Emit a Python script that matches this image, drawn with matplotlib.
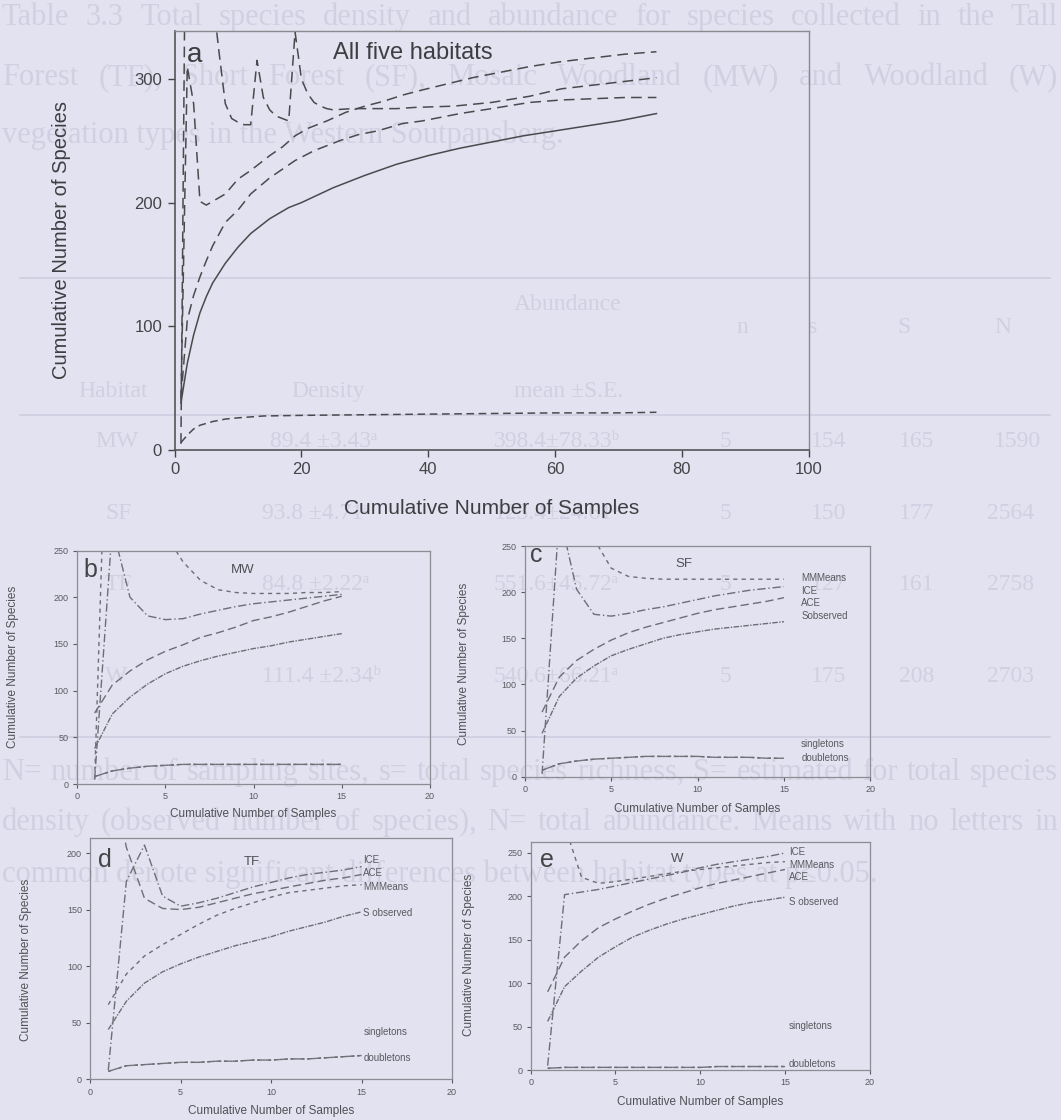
import matplotlib
matplotlib.use("Agg")
import matplotlib.pyplot as plt
from matplotlib.lines import Line2D

plt.rcParams['font.family'] = ['Liberation Sans', 'DejaVu Sans']

W, H = 1061, 1120
BG = '#e2e2f0'
GHOST = '#d0d0e2'
DARK = '#4a4a4e'
LIGHT = '#6e6e76'

# ---------------- panel a : all five habitats ----------------
a_x_sobs = [1, 2, 3, 4, 5, 6, 8, 10, 12, 15, 18, 20, 25, 30, 35, 40, 45, 50, 55, 60, 65, 70, 76]
a_sobs = [38, 70, 93, 111, 124, 135, 151, 164, 175, 187, 196, 200, 212, 222, 231, 238, 244, 249, 254, 258, 262, 266, 272]

a_x_est1 = [1, 2, 3, 4, 5, 6, 8, 10, 12, 15, 17, 19, 21, 24, 27, 30, 33, 36, 39, 43, 47, 52, 56, 61, 66, 71, 76]
a_est1 = [40, 310, 280, 201, 198, 201, 207, 219, 226, 238, 245, 254, 260, 266, 273, 278, 282, 287, 291, 296, 301, 306, 310, 314, 317, 320, 322]

a_x_est2 = [1, 2, 3, 4, 5, 6, 7, 8, 9, 10, 11, 12, 13, 14, 15, 16, 17, 18, 19, 20, 21, 22, 23, 24, 25,
            28, 31, 35, 38, 44, 50, 56, 61, 66, 71, 76]
a_est2 = [5, 600, 520, 460, 420, 367, 322, 280, 268, 265, 263, 263, 315, 285, 275, 270, 268, 266, 338, 300, 288, 281, 278, 276, 275,
          276, 276, 276, 277, 278, 281, 286, 292, 295, 298, 301]

a_x_est3 = [1, 2, 3, 4, 5, 6, 8, 10, 12, 15, 17, 19, 22, 26, 29, 32, 36, 39, 45, 50, 56, 61, 66, 71, 76]
a_est3 = [42, 105, 125, 140, 153, 165, 184, 194, 207, 220, 227, 234, 242, 250, 255, 258, 264, 266, 272, 276, 281, 283, 284, 285, 285]

a_x_single = [1, 2, 3, 4, 6, 8, 10, 14, 20, 30, 40, 50, 60, 70, 76]
a_single = [6, 12, 17, 20, 23, 25, 26, 27.5, 28, 28.5, 29, 29.5, 30, 30, 30.5]

a_xticks = [0, 20, 40, 60, 80, 100]
a_yticks = [0, 100, 200, 300]

# ---------------- panels b-e : per habitat ----------------
samples = list(range(1, 16))
sub_xticks = [0, 5, 10, 15, 20]

b_sobs = [38, 75, 93, 107, 118, 126, 132, 137, 141, 145, 148, 152, 155, 158, 161]
b_ice = [5, 275, 200, 180, 176, 177, 182, 186, 190, 193, 195, 197, 199, 201, 203]
b_ace = [76, 106, 121, 133, 142, 149, 157, 162, 168, 175, 179, 184, 190, 196, 201]
b_mmm = [5, 600, 450, 330, 268, 238, 218, 208, 205, 204, 204, 204, 205, 205, 206]
b_single = [8, 14, 17, 19, 20, 21, 21, 21, 21, 21, 21, 21, 21, 21, 21]
b_double = [8, 14, 17, 19, 20, 21, 21, 21, 21, 21, 21, 21, 21, 21, 21]

c_sobs = [47, 87, 107, 120, 131, 138, 144, 150, 154, 157, 160, 162, 164, 166, 168]
c_ice = [3, 285, 203, 176, 174, 177, 181, 184, 188, 192, 196, 199, 202, 204, 206]
c_ace = [70, 108, 126, 138, 148, 156, 162, 167, 172, 177, 181, 184, 187, 190, 194]
c_mmm = [None, None, None, 258, 226, 217, 215, 214, 214, 214, 214, 214, 214, 214, 214]
c_single = [7, 14, 17, 19, 20, 21, 22, 22, 22, 22, 21, 21, 21, 20, 20]
c_double = [7, 14, 17, 19, 20, 21, 22, 22, 22, 22, 21, 21, 21, 20, 20]

d_sobs = [44, 69, 85, 95, 102, 108, 113, 118, 122, 126, 131, 135, 139, 144, 148]
d_ice = [8, 175, 207, 162, 153, 156, 160, 165, 170, 174, 178, 181, 183, 185, 188]
d_ace = [285, 205, 160, 151, 150, 152, 156, 160, 164, 167, 170, 173, 176, 178, 181]
d_mmm = [66, 93, 109, 119, 128, 137, 145, 151, 156, 161, 165, 167, 169, 171, 172]
d_single = [7, 12, 13, 14, 15, 15, 16, 16, 17, 17, 18, 18, 19, 20, 21]
d_double = [7, 12, 13, 14, 15, 15, 16, 16, 17, 17, 18, 18, 19, 20, 21]

e_sobs = [56, 96, 114, 130, 142, 153, 161, 168, 174, 179, 184, 189, 193, 196, 199]
e_ice = [5, 202, 205, 208, 212, 216, 220, 224, 228, 233, 237, 240, 243, 246, 250]
e_ace = [90, 130, 149, 164, 174, 183, 191, 198, 204, 210, 215, 219, 223, 227, 231]
e_mmm = [None, 282, 222, 215, 217, 220, 223, 226, 229, 231, 233, 235, 237, 239, 240]
e_single = [2, 3, 3, 3, 3, 3, 3, 3, 3, 3, 4, 4, 4, 4, 4]
e_double = [2, 3, 3, 3, 3, 3, 3, 3, 3, 3, 4, 4, 4, 4, 4]

c_labels = ['MMMeans', 'ICE', 'ACE', 'Sobserved', 'singletons', 'doubletons']
d_labels = ['ICE', 'ACE', 'MMMeans', 'S observed', 'singletons', 'doubletons']
e_labels = ['ICE', 'MMMeans', 'ACE', 'S observed', 'singletons', 'doubletons']

# ---------------- faint show-through text of the page ----------------
# (text, left x px, baseline y px, justify)
ghost_par = [
    ("Table 3.3 Total species density and abundance for species collected in the Tall", 2, 25, True),
    ("Forest (TF), Short Forest (SF), Mosaic Woodland (MW) and Woodland (W)", 2, 85, True),
    ("vegetation types in the Western Soutpansberg.", 2, 143, False),
    ("N= number of sampling sites, s= total species richness, S= estimated for total species", 2, 780, True),
    ("density (observed number of species), N= total abundance. Means with no letters in", 2, 830, True),
    ("common denote significant differences between habitat types at p\u22640.05.", 2, 882, False),
]
ghost_cells = [
    ("Abundance", 514, 310), ("n", 736, 333), ("s", 808, 333), ("S", 897, 333), ("N", 994, 333),
    ("Habitat", 78, 397), ("Density", 291, 397), ("mean \u00b1S.E.", 514, 397),
    ("MW", 95, 447), ("89.4 \u00b13.43\u1d43", 270, 447), ("398.4\u00b178.33\u1d47", 494, 447),
    ("5", 720, 447), ("154", 811, 447), ("165", 899, 447), ("1590", 994, 447),
    ("SF", 105, 519), ("93.8 \u00b14.71\u1d43", 262, 519), ("123.4\u00b124.61\u1d43", 494, 519),
    ("5", 720, 519), ("150", 811, 519), ("177", 899, 519), ("2564", 987, 519),
    ("TF", 105, 590), ("84.8 \u00b12.22\u1d43", 262, 590), ("551.6\u00b145.72\u1d43", 494, 590),
    ("5", 720, 590), ("127", 811, 590), ("161", 899, 590), ("2758", 987, 590),
    ("W", 105, 682), ("111.4 \u00b12.34\u1d47", 262, 682), ("540.6\u00b166.21\u1d43", 494, 682),
    ("5", 720, 682), ("175", 811, 682), ("208", 899, 682), ("2703", 987, 682),
]
ghost_rules = [278, 415, 737]

fig = plt.figure(figsize=(W / 100, H / 100), dpi=100, facecolor=BG)
renderer = fig.canvas.get_renderer()
SERIF = ['Liberation Serif', 'DejaVu Serif']

for s, x, y, justify in ghost_par:
    if not justify:
        fig.text(x / W, 1 - y / H, s, fontfamily=SERIF, fontsize=22,
                 color=GHOST, va='baseline', ha='left', zorder=-5)
        continue
    words = s.split(' ')
    objs = [fig.text(0, 1 - y / H, w, fontfamily=SERIF, fontsize=22, color=GHOST,
                     va='baseline', ha='left', zorder=-5) for w in words]
    widths = [o.get_window_extent(renderer).width for o in objs]
    gap = (1058 - x - sum(widths)) / (len(words) - 1)
    pos = x
    for o, wd in zip(objs, widths):
        o.set_x(pos / W)
        pos += wd + gap
for s, x, y in ghost_cells:
    fig.text(x / W, 1 - y / H, s, fontfamily=SERIF, fontsize=17,
             color=GHOST, va='baseline', ha='left', zorder=-5)
for y in ghost_rules:
    fig.add_artist(Line2D([20 / W, 1050 / W], [1 - y / H, 1 - y / H], color=GHOST, lw=1.3, zorder=-5))


def add_ax(left, top, right, bottom):
    ax = fig.add_axes([left / W, 1 - bottom / H, (right - left) / W, (bottom - top) / H])
    ax.set_facecolor('none')
    return ax


# ---------------- panel a ----------------
ax = add_ax(174.6, 30.7, 808.6, 450)
ax.set_xlim(0, 100)
ax.set_ylim(0, 339)
ax.plot(a_x_sobs, a_sobs, color=DARK, lw=1.1, ls='-')
ax.plot(a_x_est1, a_est1, color=DARK, lw=1.1, ls=(0, (7, 4)))
ax.plot(a_x_est2, a_est2, color=DARK, lw=1.1, ls=(0, (7, 4)))
ax.plot(a_x_est3, a_est3, color=DARK, lw=1.1, ls=(0, (7, 4)))
ax.plot(a_x_single, a_single, color=DARK, lw=1.1, ls=(0, (5, 3)))
ax.set_xticks(a_xticks)
ax.set_yticks(a_yticks)
ax.tick_params(direction='out', length=5, width=1, labelsize=12, colors='#444448', pad=4)
for sp in ['left', 'bottom']:
    ax.spines[sp].set_color('#555558')
    ax.spines[sp].set_linewidth(1.2)
for sp in ['top', 'right']:
    ax.spines[sp].set_color('#8a8a90')
    ax.spines[sp].set_linewidth(1.0)
ax.set_xlabel('Cumulative Number of Samples', fontsize=15, color='#3e3e42')
ax.set_ylabel('Cumulative Number of Species', fontsize=14.5, color='#3e3e42')
ax.xaxis.set_label_coords(0.5, -0.118)
ax.yaxis.set_label_coords(-0.163, 0.5)
ax.text(0.02, 0.925, 'a', transform=ax.transAxes, fontsize=20, color='#3e3e42', va='baseline')
ax.text(0.25, 0.932, 'All five habitats', transform=ax.transAxes, fontsize=17, color='#3e3e42', va='baseline')

# ---------------- panels b-e ----------------
styles = {
    'sobs': (0, (4, 1, 1, 1)),
    'ice': (0, (6, 2, 1, 2)),
    'ace': (0, (6, 3)),
    'mmm': (0, (3, 3)),
    'single': (0, (4, 2)),
    'double': (0, (2, 2)),
}


def sub_panel(rect, ymax, yticks, series, letter, letter_pos, title, title_pos,
              xlab_y, ylab_x, ylab_y, labels=None, label_x=None, label_ys=None):
    ax = add_ax(*rect)
    ax.set_xlim(0, 20)
    ax.set_ylim(0, ymax)
    for key, vals in series:
        yv = [float('nan') if v is None else v for v in vals]
        ax.plot(samples, yv, color=LIGHT, lw=1.0, ls=styles[key])
    ax.set_xticks(sub_xticks)
    ax.set_yticks(yticks)
    ax.tick_params(direction='out', length=3, width=0.8, labelsize=6.5, colors='#5a5a60', pad=3)
    for sp in ax.spines.values():
        sp.set_color('#8c8c94')
        sp.set_linewidth(0.9)
    ax.set_xlabel('Cumulative Number of Samples', fontsize=8.5, color='#505056')
    ax.set_ylabel('Cumulative Number of Species', fontsize=8.5, color='#505056')
    ax.xaxis.set_label_coords(0.5, xlab_y)
    ax.yaxis.set_label_coords(ylab_x, ylab_y)
    ax.text(letter_pos[0], letter_pos[1], letter, transform=ax.transAxes, fontsize=18,
            color='#444448', va='baseline')
    ax.text(title_pos[0], title_pos[1], title, transform=ax.transAxes, fontsize=9.5,
            color='#505056', va='baseline', ha='center')
    if labels:
        for lab, ly in zip(labels, label_ys):
            ax.text(label_x, ly, lab, fontsize=7, color='#5a5a60', va='center', ha='left')
    return ax


sub_panel((77, 550.5, 430, 784), 250, [0, 50, 100, 150, 200, 250],
          [('sobs', b_sobs), ('ice', b_ice), ('ace', b_ace), ('mmm', b_mmm),
           ('single', b_single), ('double', b_double)],
          'b', (0.018, 0.888), 'MW', (0.469, 0.902), -0.103, -0.164, 0.5)

sub_panel((524.8, 546, 870.3, 776.7), 250, [0, 50, 100, 150, 200, 250],
          [('sobs', c_sobs), ('ice', c_ice), ('ace', c_ace), ('mmm', c_mmm),
           ('single', c_single), ('double', c_double)],
          'c', (0.015, 0.932), 'SF', (0.461, 0.91), -0.114, -0.159, 0.49,
          c_labels, 16.0, [215, 201, 188, 174, 35, 20])

sub_panel((90.2, 838.3, 452, 1079.3), 213, [0, 50, 100, 150, 200],
          [('sobs', d_sobs), ('ice', d_ice), ('ace', d_ace), ('mmm', d_mmm),
           ('single', d_single), ('double', d_double)],
          'd', (0.022, 0.882), 'TF', (0.446, 0.889), -0.107, -0.161, 0.495,
          d_labels, 15.1, [194, 182, 170, 147, 42, 19])

sub_panel((530.7, 841.7, 869.7, 1070), 263, [0, 50, 100, 150, 200, 250],
          [('sobs', e_sobs), ('ice', e_ice), ('ace', e_ace), ('mmm', e_mmm),
           ('single', e_single), ('double', e_double)],
          'e', (0.027, 0.89), 'W', (0.432, 0.912), -0.114, -0.164, 0.504,
          e_labels, 15.24, [251, 236, 222, 194, 51, 7])

fig.savefig('out.png', dpi=100, facecolor=BG)
